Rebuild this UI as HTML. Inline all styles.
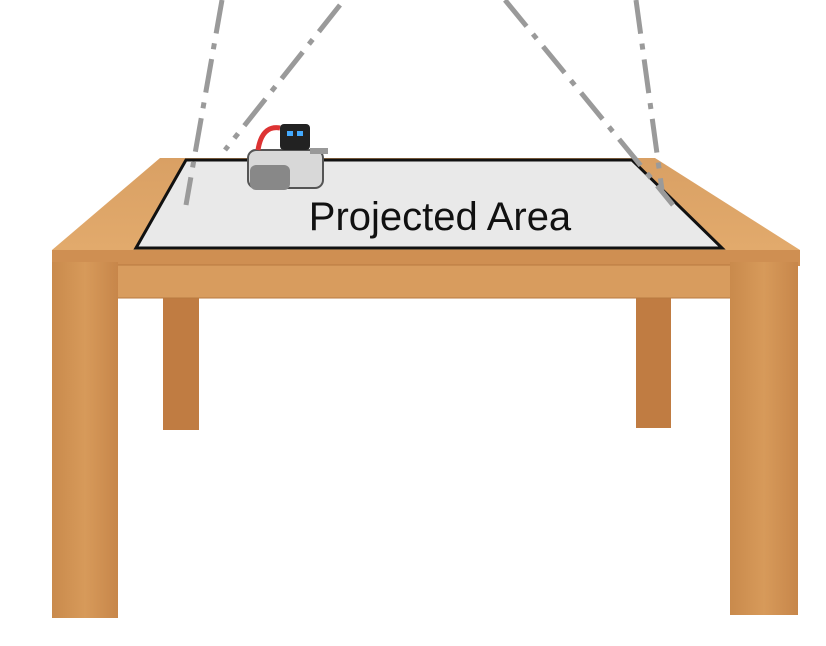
<!DOCTYPE html>
<html><head><meta charset="utf-8"><style>
html,body{margin:0;padding:0;background:#fff;}
svg{display:block;}
</style></head><body>
<svg width="826" height="646" viewBox="0 0 826 646">
<defs>
<linearGradient id="wood" x1="0" x2="1" y1="0" y2="0">
<stop offset="0" stop-color="#c98a4c"/><stop offset="0.5" stop-color="#d79a5a"/><stop offset="1" stop-color="#c7864a"/>
</linearGradient>
<linearGradient id="top" x1="0" x2="0" y1="0" y2="1">
<stop offset="0" stop-color="#d9a064"/><stop offset="1" stop-color="#e2aa6c"/>
</linearGradient>
</defs>
<!-- back legs -->
<rect x="163" y="290" width="36" height="140" fill="#c07c42"/>
<rect x="636" y="290" width="35" height="138" fill="#c07c42"/>
<!-- table top surface -->
<polygon points="160,158 655,158 800,250 52,250" fill="url(#top)"/>
<rect x="52" y="250" width="748" height="16" fill="#cf8f52"/>
<rect x="95" y="265" width="660" height="33" fill="#d89c5e" stroke="#b87a40" stroke-width="1"/>
<!-- front legs -->
<rect x="52" y="262" width="66" height="356" fill="url(#wood)"/>
<rect x="730" y="262" width="68" height="353" fill="url(#wood)"/>
<!-- projected area -->
<polygon points="186,160 632,160 722,248 136,248" fill="#e9e9e9" stroke="#111" stroke-width="3"/>
<text x="440" y="230" text-anchor="middle" font-family="Liberation Sans, sans-serif" font-size="40" fill="#111">Projected Area</text>
<!-- projection lines -->
<g stroke="#9a9a9a" stroke-width="5" stroke-dasharray="34,10,6,10" fill="none">
<line x1="222" y1="0" x2="186" y2="205"/>
<line x1="340" y1="5" x2="225" y2="150"/>
<line x1="505" y1="0" x2="673" y2="205"/>
<line x1="636" y1="0" x2="662" y2="190"/>
</g>
<!-- robot -->
<g>
<rect x="248" y="150" width="75" height="38" rx="8" fill="#d8d8d8" stroke="#555" stroke-width="2"/>
<rect x="250" y="165" width="40" height="25" rx="6" fill="#888"/>
<path d="M258 150 Q262 125 280 128" stroke="#d33" stroke-width="5" fill="none"/>
<rect x="280" y="124" width="30" height="26" rx="4" fill="#222"/>
<rect x="287" y="131" width="6" height="5" fill="#4af"/>
<rect x="297" y="131" width="6" height="5" fill="#4af"/>
<rect x="310" y="148" width="18" height="6" fill="#999"/>
</g>
</svg>
</body></html>
